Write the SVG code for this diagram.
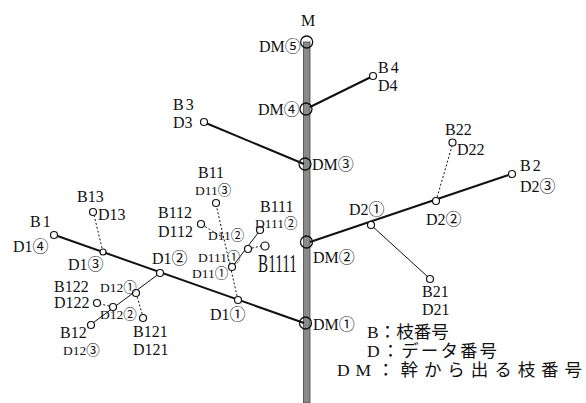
<svg xmlns="http://www.w3.org/2000/svg" width="586" height="403" viewBox="0 0 586 403">
<style>
text{font-family:"Liberation Serif","Noto Sans CJK JP",serif;fill:#111}
.b{font-size:16px}
.s{font-size:13.5px}
.lg{font-size:17.5px}
.main{stroke:#111;stroke-width:2;fill:none}
.thin{stroke:#111;stroke-width:1;fill:none}
.dot{stroke:#111;stroke-width:1;stroke-dasharray:2 2;fill:none}
.n{fill:#fff;stroke:#111;stroke-width:1.2}
.dm{fill:none;stroke:#111;stroke-width:1.3}
</style>
<rect width="586" height="403" fill="#fff"/>
<g id="connectors">
<rect x="303.5" y="42" width="6.5" height="361" fill="#8a8a8a" stroke="#444" stroke-width="0.8"/>
<line class="main" x1="310" y1="107" x2="370" y2="77.5"/>
<line class="main" x1="207" y1="123.5" x2="304" y2="164"/>
<line class="main" x1="310" y1="242" x2="508.5" y2="175"/>
<line class="main" x1="57.5" y1="236" x2="304" y2="323"/>
<line class="dot" x1="436" y1="201" x2="452" y2="146"/>
<line class="thin" x1="371" y1="225" x2="428" y2="277"/>
<line class="dot" x1="103" y1="252" x2="94" y2="215"/>
<line class="thin" x1="160" y1="273" x2="93.5" y2="322.5"/>
<line class="dot" x1="113" y1="307" x2="100.5" y2="304"/>
<line class="dot" x1="136" y1="293" x2="142.5" y2="315"/>
<line class="dot" x1="238" y1="300" x2="216.5" y2="206.5"/>
<line class="dot" x1="224" y1="238" x2="204" y2="226"/>
<line class="thin" x1="232" y1="267" x2="258" y2="233"/>
<line class="dot" x1="248" y1="249" x2="261" y2="246"/>
</g>
<g id="DM5"><circle class="dm" cx="306.7" cy="42" r="6"/><text class="b" x="259" y="52">DM⑤</text></g>
<g id="M"><text class="b" x="301" y="26">M</text></g>
<g id="DM4"><circle class="dm" cx="306" cy="109" r="6"/><text class="b" x="258" y="115">DM④</text></g>
<g id="DM3"><circle class="dm" cx="305" cy="164" r="6"/><text class="b" x="312" y="170">DM③</text></g>
<g id="DM2"><circle class="dm" cx="306.5" cy="242" r="6"/><text class="b" x="313" y="263">DM②</text></g>
<g id="DM1"><circle class="dm" cx="305.5" cy="323" r="6"/><text class="b" x="313" y="330">DM①</text></g>
<g id="B4"><circle class="n" cx="373" cy="76" r="3.5"/><text class="b" x="378" y="73" letter-spacing="2">B4</text><text class="b" x="378" y="91">D4</text></g>
<g id="B3"><circle class="n" cx="204" cy="122" r="3.5"/><text class="b" x="173" y="110" letter-spacing="2">B3</text><text class="b" x="173" y="128">D3</text></g>
<g id="B2"><circle class="n" cx="512" cy="174" r="3.5"/><text class="b" x="520" y="171" letter-spacing="2">B2</text><text class="b" x="520" y="192">D2③</text></g>
<g id="D2-1"><circle class="n" cx="371" cy="225" r="3.5"/><text class="b" x="349" y="215">D2①</text></g>
<g id="D2-2"><circle class="n" cx="436" cy="201" r="3.5"/><text class="b" x="426" y="225">D2②</text></g>
<g id="B22"><circle class="n" cx="452.5" cy="142.5" r="3.5"/><text class="b" x="445" y="135">B22</text><text class="b" x="457" y="155">D22</text></g>
<g id="B21"><circle class="n" cx="430" cy="279" r="3.5"/><text class="b" x="422" y="297">B21</text><text class="b" x="422" y="315">D21</text></g>
<g id="B1"><circle class="n" cx="54" cy="235" r="3.5"/><text class="b" x="30" y="227" letter-spacing="2">B1</text><text class="b" x="13" y="252">D1④</text></g>
<g id="D1-3"><circle class="n" cx="103" cy="252" r="3"/><text class="b" x="68" y="270">D1③</text></g>
<g id="D1-2"><circle class="n" cx="160" cy="273" r="3.5"/><text class="b" x="152" y="264">D1②</text></g>
<g id="D1-1"><circle class="n" cx="238" cy="300" r="3.5"/><text class="b" x="210" y="320">D1①</text></g>
<g id="B13"><circle class="n" cx="93" cy="212" r="3.5"/><text class="b" x="77" y="202">B13</text><text class="b" x="98" y="220">D13</text></g>
<g id="D12-1"><circle class="n" cx="136" cy="293" r="3.5"/><text class="s" x="100" y="292">D12①</text></g>
<g id="D12-2"><circle class="n" cx="113" cy="307" r="3.5"/><text class="s" x="100" y="319">D12②</text></g>
<g id="B12"><circle class="n" cx="91" cy="325" r="3.5"/><text class="b" x="60" y="338">B12</text><text class="s" x="63" y="355">D12③</text></g>
<g id="B122"><circle class="n" cx="97" cy="303" r="3.5"/><text class="b" x="54" y="292">B122</text><text class="b" x="54" y="308">D122</text></g>
<g id="B121"><circle class="n" cx="143" cy="318" r="3.5"/><text class="b" x="133" y="337">B121</text><text class="b" x="133" y="355">D121</text></g>
<g id="B11"><circle class="n" cx="216" cy="203" r="3.5"/><text class="b" x="198" y="178">B11</text><text class="s" x="195" y="195">D11③</text></g>
<g id="D11-2"><text class="s" x="208" y="240">D11②</text></g>
<g id="D11-1"><circle class="n" cx="232" cy="267" r="3.5"/><text class="s" x="192" y="278">D11①</text></g>
<g id="B112"><circle class="n" cx="201" cy="224" r="3.5"/><text class="b" x="158" y="218">B112</text><text class="b" x="158" y="237">D112</text></g>
<g id="D111-1"><circle class="n" cx="248" cy="249" r="3.5"/><text class="s" x="198" y="262">D111①</text></g>
<g id="B111"><circle class="n" cx="260" cy="230" r="3.5"/><text class="b" x="260" y="212">B111</text><text class="s" x="255" y="228">D111②</text></g>
<g id="B1111"><circle class="n" cx="265" cy="246" r="4"/><text class="b" transform="translate(258,272) scale(0.95,1.6)">B1111</text></g>
<g id="legend">
<text class="lg" x="367" y="338">B：枝番号</text>
<text class="lg" x="367" y="357" textLength="130" lengthAdjust="spacing">D：データ番号</text>
<text class="lg" x="337" y="376" textLength="245" lengthAdjust="spacing">DM：幹から出る枝番号</text>
</g>
</svg>
